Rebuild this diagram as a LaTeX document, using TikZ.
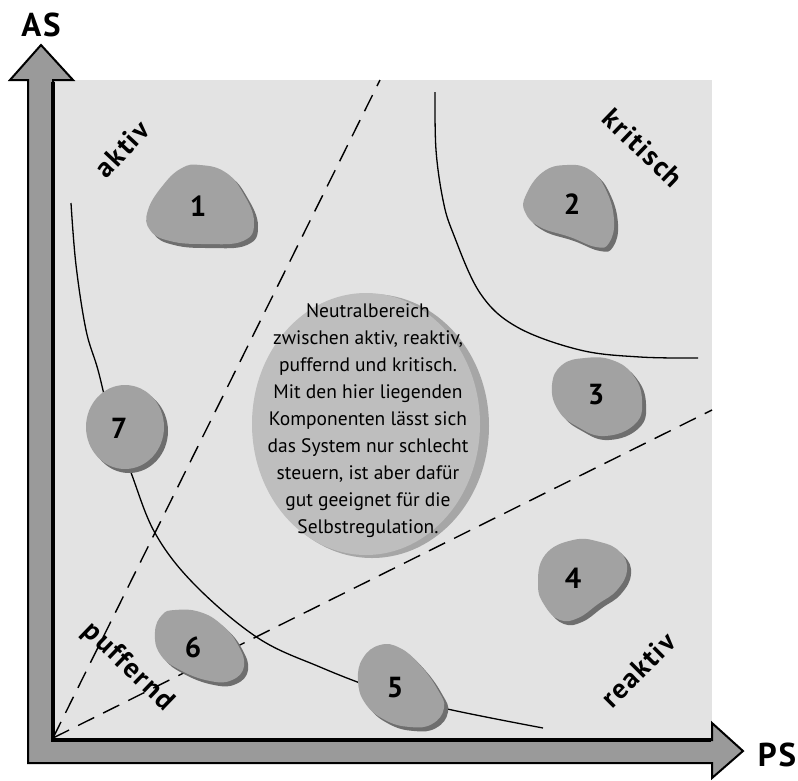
\documentclass[tikz,border=0pt]{standalone}
\usepackage{fontspec}
\setmainfont{PT Sans}
\newfontfamily\lblfont[LetterSpace=6]{PT Sans}
\begin{document}
\begin{tikzpicture}[x=1pt,y=-1pt,
  num/.style={font=\bfseries\fontsize{29}{29}\selectfont, inner sep=0pt},
  lbl/.style={font=\lblfont\bfseries\fontsize{28}{28}\selectfont, inner sep=0pt},
  axlbl/.style={font=\lblfont\bfseries\fontsize{33}{33}\selectfont, inner sep=0pt},
  dashline/.style={line width=1.4pt, dash pattern=on 18pt off 10pt},
  curve/.style={line width=1.3pt}]
\definecolor{panelgray}{HTML}{E3E3E3}
\definecolor{blobgray}{HTML}{A2A2A2}
\definecolor{shadowgray}{HTML}{6E6E6E}
\definecolor{ellgray}{HTML}{BEBEBE}
\definecolor{ellrim}{HTML}{A6A6A6}
\definecolor{axisgray}{HTML}{9A9A9A}
\useasboundingbox (0,0) rectangle (798,780);
\fill[white] (0,0) rectangle (798,780);
% panel
\fill[panelgray] (53,80) rectangle (712,740);
% central ellipse
\fill[ellrim] (372,426) ellipse [x radius=117, y radius=132];
\fill[ellgray] (366,424) ellipse [x radius=114, y radius=131];
% curves
\draw[curve] plot[smooth, tension=0.6] coordinates {(71,203) (76,265) (86,330) (98,370) (112,425) (130,470) (155,533) (195,585) (258,638) (320,667) (380,690) (443,708) (543,728)};
\draw[curve] plot[smooth, tension=0.6] coordinates {(435,92) (436,150) (443,200) (453,233) (480,293) (517,327) (580,350) (640,357) (698,358)};
% dashed lines
\coordinate (O) at (53,738);
\coordinate (D1) at (380,80);
\coordinate (D2) at (712,410);
\draw[dashline] (O) -- (D1);
\draw[dashline] (O) -- (D2);
% blobs: shadow then body
\foreach \dx/\dy/\f in {4/4/shadowgray, 0/0/blobgray}{
 \begin{scope}[shift={(\dx,\dy)}]
  \fill[\f] plot[smooth cycle, tension=0.75] coordinates {(200,165) (225,172) (243,193) (254,222) (243,241) (205,244) (170,241) (150,230) (148,210) (164,184) (182,168)};
  \fill[\f] plot[smooth cycle, tension=0.75] coordinates {(567,165) (590,170) (606,190) (614,220) (609,243) (596,247) (570,237) (540,227) (525,212) (526,195) (543,172)};
  \fill[\f] plot[smooth cycle, tension=0.75] coordinates {(585,358) (612,360) (633,375) (642,400) (635,424) (605,436) (578,427) (558,410) (552,385) (562,365)};
  \fill[\f] plot[smooth cycle, tension=0.75] coordinates {(573,540) (600,542) (620,552) (627,570) (617,590) (598,604) (578,618) (560,620) (545,606) (538,585) (545,555)};
  \fill[\f] plot[smooth cycle, tension=0.75] coordinates {(380,645) (400,648) (420,665) (438,690) (444,708) (432,724) (410,727) (385,720) (365,703) (358,680) (363,658)};
  \fill[\f] plot[smooth cycle, tension=0.75] coordinates {(175,610) (200,612) (222,625) (238,645) (244,666) (232,680) (210,681) (180,670) (160,654) (155,632) (162,615)};
  \fill[\f] (125,427) ellipse [x radius=39, y radius=42];
 \end{scope}}
% numbers
\node[num] (n1) at (198,206) {1};
\node[num] (n2) at (572,204) {2};
\node[num] (n3) at (596,395) {3};
\node[num] (n4) at (573,578) {4};
\node[num] (n5) at (395,688) {5};
\node[num] (n6) at (193,647) {6};
\node[num] (n7) at (119,428) {7};
% central text
\node[align=center, inner sep=0pt, font=\fontsize{19.5}{27}\selectfont] (txt) at (368,421) {Neutralbereich\\zwischen aktiv, reaktiv,\\puffernd und kritisch.\\Mit den hier liegenden\\Komponenten lässt sich\\das System nur schlecht\\steuern, ist aber dafür\\gut geeignet für die\\Selbstregulation.};
% region labels
\node[lbl, rotate=47] (aktiv) at (122,149) {aktiv};
\node[lbl, rotate=-44] (krit) at (643,148) {kritisch};
\node[lbl, rotate=45] (reak) at (638,670) {reaktiv};
\node[lbl, rotate=-44] (puff) at (128,667) {puffernd};
% axes
\draw[line width=2pt, fill=axisgray, line join=miter]
  (53,80) -- (73,80) -- (41,45) -- (10,80) -- (28,80) -- (28,763) -- (712,763)
  -- (712,778) -- (743,751) -- (712,723) -- (712,740) -- (53,740) -- cycle;
\draw[line width=4pt, line join=miter] (53,82) -- (53,740) -- (711,740);
\node[axlbl] (as) at (41,25) {AS};
\node[axlbl] (ps) at (777,755) {PS};
\end{tikzpicture}
\end{document}
